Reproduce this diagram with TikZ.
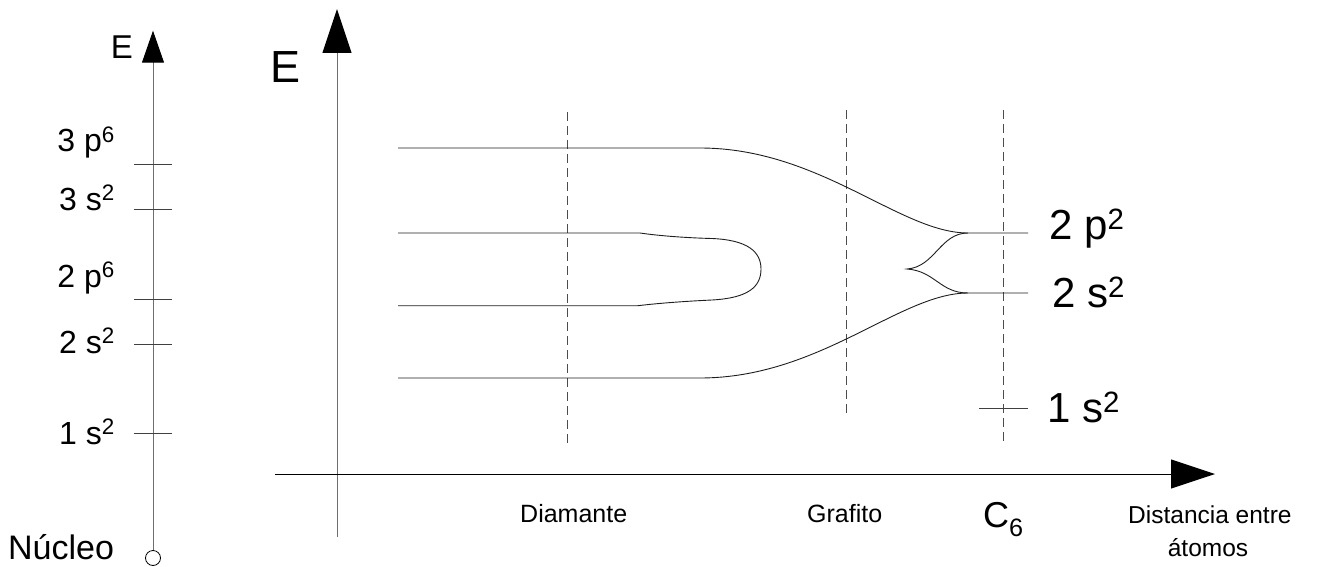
\documentclass[tikz,border=0pt]{standalone}
\usepackage{fontspec}
\setmainfont{Liberation Sans}
\usetikzlibrary{arrows.meta}
\definecolor{axgray}{HTML}{6E6E6E}
\definecolor{lvl}{HTML}{1E1E1E}
\newcommand\fsz[1]{\fontsize{#1}{#1}\selectfont}
\begin{document}
\begin{tikzpicture}[x=1pt,y=-1pt,
  lbl/.style={inner sep=0pt, anchor=base west, text=black},
  lblr/.style={inner sep=0pt, anchor=base east, text=black},
  level/.style={line width=0.9pt, draw=lvl},
  tickline/.style={line width=0.9pt, draw=black!75},
  guide/.style={line width=0.9pt, dash pattern=on 9pt off 5pt, draw=black!70},
  axis/.style={line width=1pt, draw=axgray},
  haxis/.style={line width=1pt, draw=black},
  smalltip/.style={-{Triangle[length=32pt,width=22pt,color=black]}},
  bigtip/.style={-{Triangle[length=44pt,width=29pt,color=black]}}
]
\useasboundingbox (0,0) rectangle (1317,567);

% ---------- left energy axis ----------
\node[circle, draw=black, line width=0.8pt, minimum size=15pt, inner sep=0pt] (nuc) at (153,558) {};
\coordinate (ltip) at (153,30.7);
\draw[axis, smalltip] (nuc.north) -- (ltip);
\node[lblr] (lE) at (133,59) {\fsz{33}E};
\node[lbl] (lnuc) at (8,559) {\fsz{34}Núcleo};

\foreach \y/\n in {164/a,209/b,299/c,344/d,433/e}{
  \coordinate (tl\n) at (134,\y);
  \coordinate (tr\n) at (172,\y);
  \draw[tickline] (tl\n) -- (tr\n);
}
\node[lblr] (l3p) at (115,152) {\fsz{32}3 p\textsuperscript{6}};
\node[lblr] (l3s) at (115,210) {\fsz{32}3 s\textsuperscript{2}};
\node[lblr] (l2p) at (115,287) {\fsz{32}2 p\textsuperscript{6}};
\node[lblr] (l2s) at (115,353) {\fsz{32}2 s\textsuperscript{2}};
\node[lblr] (l1s) at (115,444) {\fsz{32}1 s\textsuperscript{2}};

% ---------- main axes ----------
\coordinate (vbot) at (337,537);
\coordinate (vtip) at (337,9);
\coordinate (hleft) at (275,474);
\coordinate (htip) at (1215,474);
\draw[axis, bigtip] (vbot) -- (vtip);
\draw[haxis, bigtip] (hleft) -- (htip);
\node[lbl] (mE) at (270,83) {\fsz{45}E};

% ---------- dashed guides ----------
\coordinate (d1t) at (567,112); \coordinate (d1b) at (567,445);
\coordinate (d2t) at (846,110); \coordinate (d2b) at (846,415);
\coordinate (d3t) at (1003,110); \coordinate (d3b) at (1003,445);
\draw[guide] (d1t) -- (d1b);
\draw[guide] (d2t) -- (d2b);
\draw[guide] (d3t) -- (d3b);

% ---------- energy levels ----------
\coordinate (jp) at (968,233);
\coordinate (js) at (968,293);
\coordinate (ep) at (1028,233);
\coordinate (es) at (1028,293);
\coordinate (cusp) at (907,269);

% top band -> 2p
\draw[level] (398,148) -- (700,148) .. controls (820,148) and (900,233) .. (jp) -- (ep);
% bottom band -> 2s
\draw[level] (398,378) -- (700,378) .. controls (820,378) and (900,293) .. (js) -- (es);
% diamond loop
\draw[level] (398,233) -- (640,233) .. controls (660,236) and (690,238) .. (712,238.5)
  .. controls (748,240) and (761,252) .. (761,269)
  .. controls (761,287) and (748,298) .. (712,300)
  .. controls (690,301) and (660,303) .. (638,305.7) -- (398,305.7);
% cusp
\draw[level] (jp) .. controls (940,233) and (935,267) .. (cusp)
  .. controls (935,271) and (940,293) .. (js);
% 1s tick
\coordinate (s1a) at (979,408);
\coordinate (s1b) at (1028,408);
\draw[tickline] (s1a) -- (s1b);

\node[lbl] (r2p) at (1049,239) {\fsz{42}2 p\textsuperscript{2}};
\node[lbl] (r2s) at (1052,307) {\fsz{42}2 s\textsuperscript{2}};
\node[lbl] (r1s) at (1047,422) {\fsz{42}1 s\textsuperscript{2}};

% ---------- bottom labels ----------
\node[lbl] (dia) at (520,522) {\fsz{25}Diamante};
\node[lbl] (gra) at (807,522) {\fsz{25}Grafito};
\node[lbl] (c6) at (983,527) {\fsz{36}C\textsubscript{6}};
\node[lbl] (dist1) at (1128,523) {\fsz{24.5}Distancia entre};
\node[inner sep=0pt, anchor=base, text=black] (dist2) at (1208,556) {\fsz{24.5}átomos};
\end{tikzpicture}
\end{document}
